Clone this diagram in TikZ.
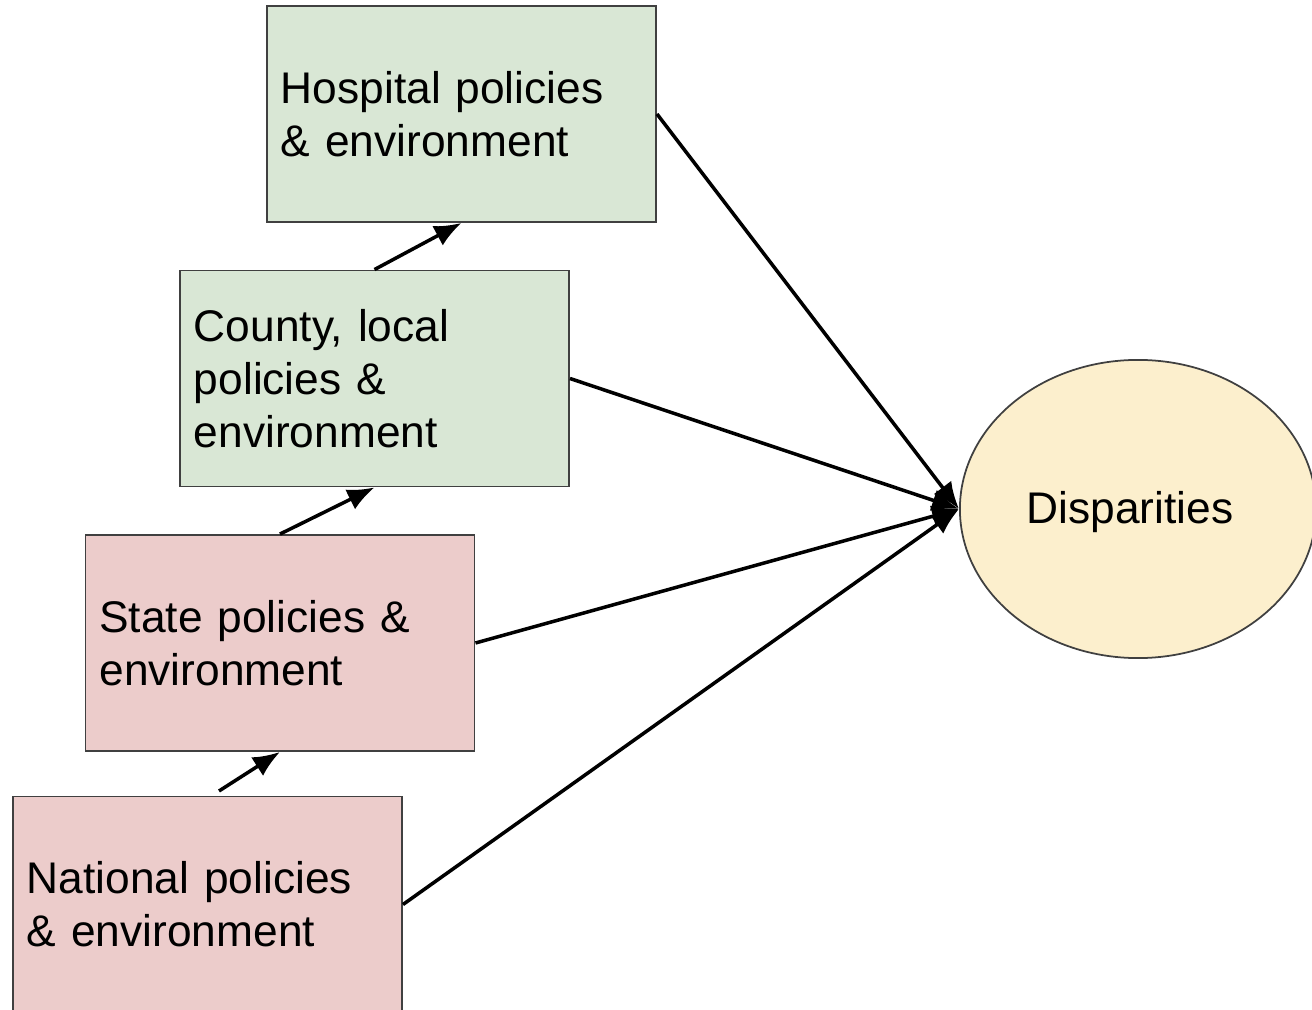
\documentclass[tikz,border=0pt]{standalone}
\usepackage{fontspec}
\setmainfont{Liberation Sans}
\usetikzlibrary{shapes.geometric,arrows.meta}
\definecolor{boxgreen}{HTML}{D9E7D5}
\definecolor{boxred}{HTML}{ECCCCB}
\definecolor{boxyellow}{HTML}{FCEFCD}

\begin{document}
\begin{tikzpicture}[x=0.01cm,y=-0.01cm,
    every node/.style={rectangle, draw=black!75, line width=0.5pt, minimum width=3.89cm, minimum height=2.16cm,
      text width=3.61cm, inner xsep=0.14cm, align=left, font=\fontsize{12.6}{15.1}\selectfont},
    link/.style={line width=1pt, -{Latex[length=0.27cm,width=0.22cm]}}]
      \useasboundingbox (0,0) rectangle (1312,1010);
      \clip (0,0) rectangle (1312,1010);
      \node[fill=boxred] (0) at (207.5,904.5) {National policies\\ \& environment};
      \node[fill=boxred] (1) at (280,643) {State policies \&\\ environment};
      \node[fill=boxgreen] (2) at (374.5,378.5) {County, local\\ policies \&\\ environment};
      \node[fill=boxgreen] (3) at (461.5,114) {Hospital policies\\ \& environment};
      \node[ellipse, fill=boxyellow, minimum width=3.56cm, minimum height=2.98cm, text width=, align=center, inner sep=0pt] (4) at (1138,509) {\raisebox{-4pt}[0pt][0pt]{\hspace*{-4.6pt}Disparities}};
      \coordinate (0t) at (219,791);

      \draw[link] (0t) -- (1.south);
      \draw[link] (1.north) -- (2.south);
      \draw[link] (2.north) -- (3.south);
      \draw[link] (0.east) -- (4.west);
      \draw[link] (1.east) -- (4.west);
      \draw[link] (2.east) -- (4.west);
      \draw[link] (3.east) -- (4.west);

    \end{tikzpicture}
\end{document}
